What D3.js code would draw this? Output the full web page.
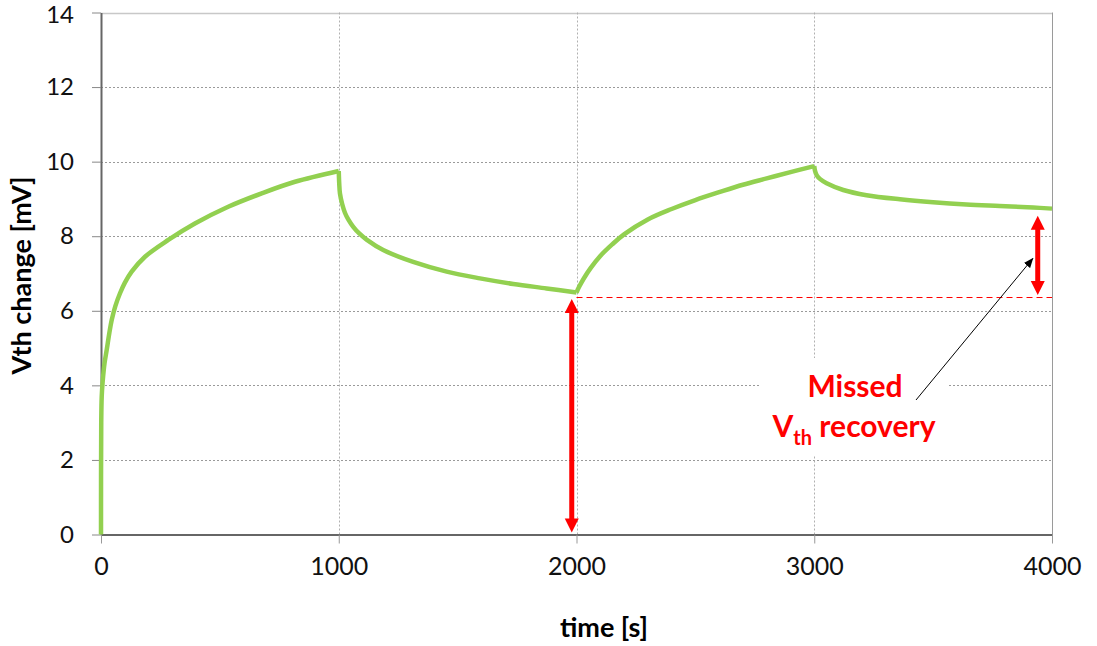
<!DOCTYPE html>
<html>
<head>
<meta charset="utf-8">
<script src="https://cdn.jsdelivr.net/npm/d3@7"></script>
<style>
  body { margin: 0; background: #fff; }
  text { font-family: Lato, "Open Sans", sans-serif; }
</style>
</head>
<body>
<div id="chart"></div>
<script>
// readings: time [s] and Vth change [mV]
var stress1T = [0, 1, 3, 7, 15, 24, 35, 45, 60, 80, 100, 129, 185, 283, 395, 535, 676, 816, 1000];
var stress1V = [0, 3.0, 3.7, 4.1, 4.6, 4.95, 5.4, 5.75, 6.12, 6.47, 6.75, 7.05, 7.45, 7.9, 8.34, 8.79, 9.15, 9.46, 9.75];
var recov1T = [1000, 1002, 1005, 1015, 1026, 1040, 1061, 1085, 1117, 1187, 1313, 1454, 1594, 1734, 1874, 2000];
var recov1V = [9.75, 9.42, 9.15, 8.85, 8.63, 8.45, 8.25, 8.08, 7.91, 7.63, 7.31, 7.05, 6.87, 6.72, 6.6, 6.49];
var stress2T = [2000, 2010, 2030, 2060, 2100, 2150, 2200, 2300, 2400, 2500, 2600, 2700, 2800, 2900, 3000];
var stress2V = [6.49, 6.63, 6.86, 7.15, 7.47, 7.78, 8.05, 8.45, 8.73, 8.97, 9.18, 9.38, 9.55, 9.72, 9.88];
var recov2T = [3000, 3003, 3010, 3025, 3052, 3122, 3220, 3360, 3500, 3640, 3780, 3921, 4000];
var recov2V = [9.88, 9.76, 9.64, 9.53, 9.42, 9.24, 9.1, 8.99, 8.91, 8.85, 8.81, 8.77, 8.74];

var xTicks = [0, 1000, 2000, 3000, 4000];
var yTicks = [0, 2, 4, 6, 8, 10, 12, 14];

// annotation values
var refLevel = 6.37;             // dashed reference after first recovery
var bigArrow = [1980, 0, 6.37];  // time, from, to
var smallArrow = [3940, 6.37, 8.6];

var width = 1097, height = 646;
var margin = {left: 101, right: 45, top: 12.5, bottom: 111.5};

var svg = d3.select("#chart").append("svg")
    .attr("width", width)
    .attr("height", height);

var x = d3.scaleLinear().domain([0, 4000]).range([margin.left, width - margin.right]);
var y = d3.scaleLinear().domain([0, 14]).range([height - margin.bottom, margin.top]);

var defs = svg.append("defs");
defs.append("marker").attr("id", "blackHead")
    .attr("viewBox", "0 0 10 10").attr("refX", 9).attr("refY", 5)
    .attr("markerWidth", 10).attr("markerHeight", 10)
    .attr("markerUnits", "userSpaceOnUse")
    .attr("orient", "auto")
  .append("path").attr("d", "M0,1 L10,5 L0,9 Z").attr("fill", "#000");

// gridlines
var grid = svg.append("g");
grid.selectAll(".hg").data(yTicks.filter(function(d) { return d > 0; }))
  .enter().append("line")
    .attr("x1", x(0)).attr("x2", x(4000))
    .attr("y1", function(d) { return Math.round(y(d)) + 0.5; })
    .attr("y2", function(d) { return Math.round(y(d)) + 0.5; })
    .attr("stroke", function(d) { return d === 14 ? "#c8c8c8" : "#9a9a9a"; })
    .attr("stroke-width", function(d) { return d === 14 ? 1.5 : 1; })
    .attr("stroke-dasharray", function(d) { return d === 14 ? null : "2,2"; });
grid.selectAll(".vg").data(xTicks.filter(function(d) { return d > 0; }))
  .enter().append("line")
    .attr("x1", function(d) { return Math.round(x(d)) + 0.5; })
    .attr("x2", function(d) { return Math.round(x(d)) + 0.5; })
    .attr("y1", y(0)).attr("y2", y(14))
    .attr("stroke", function(d) { return d === 4000 ? "#9a9a9a" : "#b0b0b0"; })
    .attr("stroke-dasharray", function(d) { return d === 4000 ? null : "2,2"; });

// axes
var yAxis = svg.append("g")
    .attr("transform", "translate(" + x(0) + ",0)")
    .call(d3.axisLeft(y).tickValues(yTicks).tickSize(9).tickSizeOuter(0).tickPadding(18));
yAxis.select(".domain").attr("stroke", "#666").attr("stroke-width", 2);
yAxis.selectAll(".tick line").attr("stroke", "#888");
yAxis.selectAll("text").attr("font-size", 24).attr("fill", "#111");
yAxis.selectAll(".tick").filter(function(d) { return d === 14; })
    .select("text").attr("y", 2);

var xAxis = svg.append("g")
    .attr("transform", "translate(0," + y(0) + ")")
    .call(d3.axisBottom(x).tickValues(xTicks).tickFormat(d3.format("d"))
      .tickSize(9).tickSizeOuter(0).tickPadding(14));
xAxis.select(".domain").attr("stroke", "#333").attr("stroke-width", 1.5);
xAxis.selectAll(".tick line").attr("stroke", "#999");
xAxis.selectAll("text").attr("font-size", 25).attr("fill", "#111");

svg.append("text")
    .attr("transform", "translate(31," + (y(7) + 2) + ") rotate(-90)")
    .attr("text-anchor", "middle")
    .attr("font-size", 27).attr("font-weight", "bold")
    .text("Vth change [mV]");
svg.append("text")
    .attr("x", 604).attr("y", 637)
    .attr("text-anchor", "middle")
    .attr("font-size", 27).attr("font-weight", "bold")
    .text("time [s]");

// curve
var segs = [];
[[stress1T, stress1V], [recov1T, recov1V], [stress2T, stress2V], [recov2T, recov2V]]
  .forEach(function(seg) {
    segs.push(seg[0].map(function(t, j) { return [t, seg[1][j]]; }));
  });

var line = d3.line()
    .x(function(d) { return x(d[0]); })
    .y(function(d) { return y(d[1]); })
    .curve(d3.curveCatmullRom.alpha(0.5));

svg.selectAll(".seg").data(segs).enter().append("path")
    .attr("d", line)
    .attr("fill", "none")
    .attr("stroke", "#92D050")
    .attr("stroke-width", 4.5)
    .attr("stroke-linejoin", "miter");

// dashed reference
var refY = Math.round(y(refLevel)) + 0.5;
svg.append("line")
    .attr("x1", x(2000)).attr("x2", x(4000))
    .attr("y1", refY).attr("y2", refY)
    .attr("stroke", "#ff0000").attr("stroke-width", 1)
    .attr("stroke-dasharray", "6,4");

// red double arrows
function redArrow(t, v0, v1) {
  var cx = x(t), yb = y(v0) - 2, yt = y(v1) + 2, hl = 14, hw = 7;
  var g = svg.append("g").attr("fill", "#ff0000");
  g.append("rect").attr("x", cx - 2.5).attr("width", 5)
      .attr("y", yt + hl - 1).attr("height", yb - yt - 2 * hl + 2);
  g.append("path").attr("d", "M" + cx + "," + yt + " L" + (cx + hw) + "," + (yt + hl) + " L" + (cx - hw) + "," + (yt + hl) + " Z");
  g.append("path").attr("d", "M" + cx + "," + yb + " L" + (cx + hw) + "," + (yb - hl) + " L" + (cx - hw) + "," + (yb - hl) + " Z");
}
redArrow(bigArrow[0], bigArrow[1], bigArrow[2]);
redArrow(smallArrow[0], smallArrow[1], smallArrow[2]);

// label box
svg.append("rect")
    .attr("x", 760).attr("y", 358).attr("width", 188).attr("height", 97)
    .attr("fill", "#fff");

svg.append("line")
    .attr("x1", 916).attr("y1", 400)
    .attr("x2", x(smallArrow[0]) - 5).attr("y2", y(7.4))
    .attr("stroke", "#000").attr("stroke-width", 1)
    .attr("marker-end", "url(#blackHead)");

var lbl = svg.append("g").attr("fill", "#ff0000").attr("font-weight", "bold").attr("font-size", 30);
lbl.append("text").attr("x", 855).attr("y", 397).attr("text-anchor", "middle").text("Missed");
var t2 = lbl.append("text").attr("x", 854).attr("y", 437).attr("text-anchor", "middle");
t2.append("tspan").text("V");
t2.append("tspan").attr("font-size", 20).attr("dy", 8).text("th");
t2.append("tspan").attr("dy", -8).text(" recovery");
</script>
</body>
</html>
